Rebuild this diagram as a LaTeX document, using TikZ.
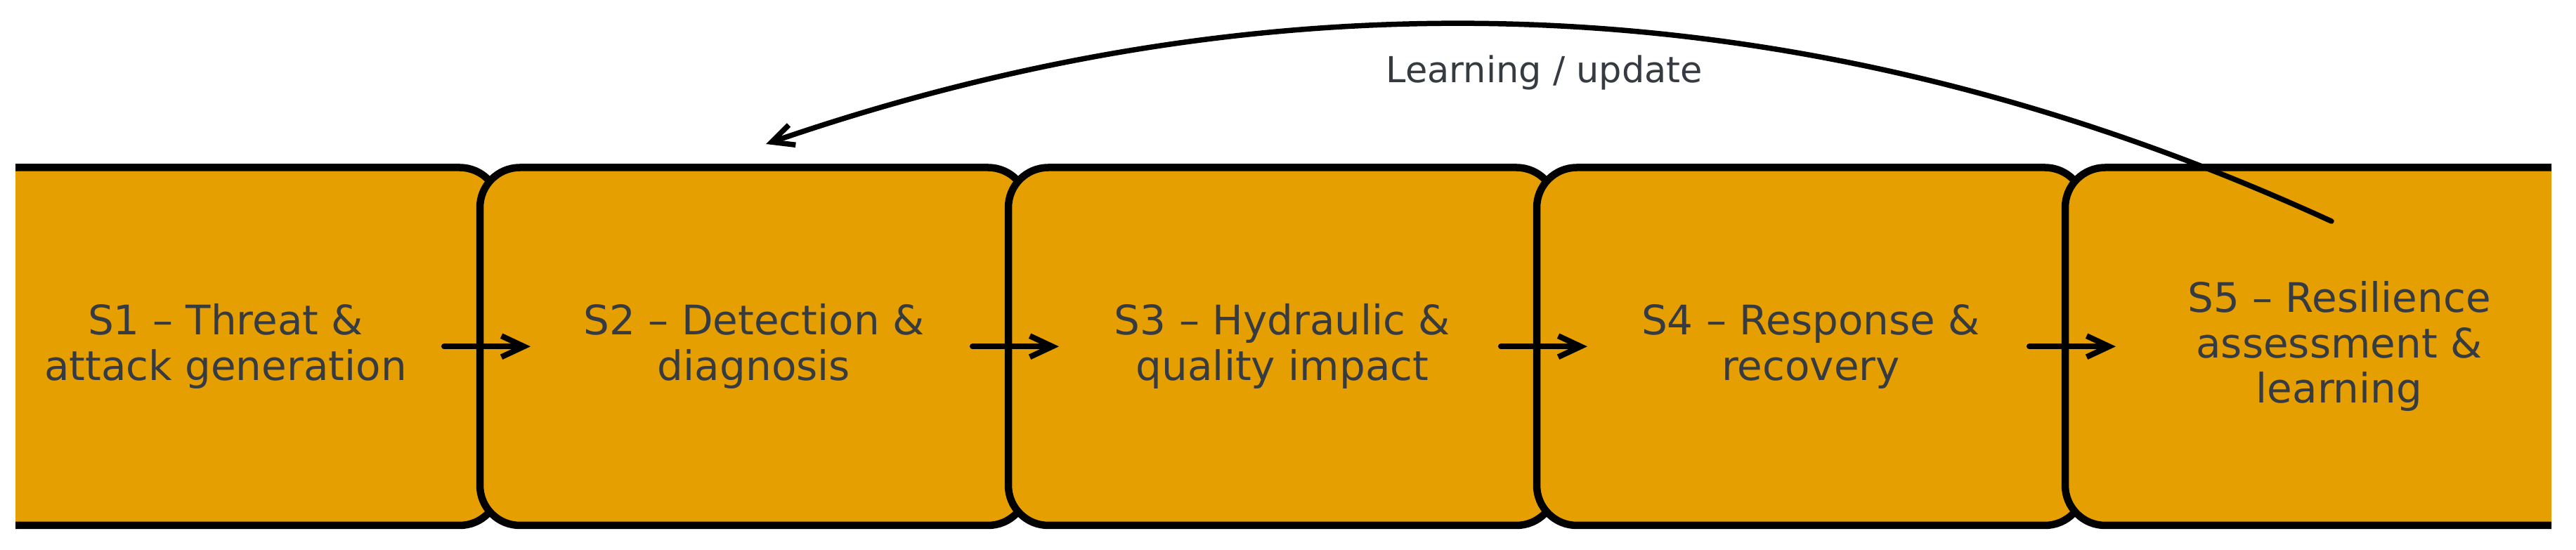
\documentclass[tikz,border=0pt]{standalone}
\usepackage{fontspec}
\setmainfont{DejaVu Sans}
\usetikzlibrary{arrows.meta}
\definecolor{stageorange}{HTML}{E69F00}
\definecolor{inkgray}{HTML}{363B42}
\tikzset{stage/.style = {draw, fill = stageorange, line width = 0.105cm, rounded corners = 0.57cm,
    minimum width = 7.8cm, minimum height = 5.095cm, inner sep = 0, align = center,
    text = inkgray, font = \fontsize{16.5}{18.4}\selectfont},
  flow/.style = {line width = 0.08cm, line cap = round, shorten <= 3.11cm, shorten >= 3.18cm,
    -{Straight Barb[length = 3.2mm, width = 3mm]}},
  loopback/.style = {line width = 0.075cm, line cap = round, -{Straight Barb[length = 3.1mm, width = 3mm]}},
  note/.style = {text = inkgray, font = \fontsize{14.5}{17}\selectfont, inner sep = 0}}
\begin{document}
\begin{tikzpicture}
    \useasboundingbox (0, 0) rectangle (36.66, 7.83);
    \begin{scope}
      \clip (0.22, 0) rectangle (36.31, 7.83);
      \node (s1) at (3.21, 2.8975) [stage] {S1 – Threat \&\\attack generation};
      \node (s2) at (10.73, 2.8975) [stage] {S2 – Detection \&\\diagnosis};
      \node (s3) at (18.25, 2.8975) [stage] {S3 – Hydraulic \&\\quality impact};
      \node (s4) at (25.77, 2.8975) [stage] {S4 – Response \&\\recovery};
      \node (s5) at (33.29, 2.8975) [stage] {S5 – Resilience\\assessment \&\\learning};
    \end{scope}
    \draw [flow] (s1.center) -- (s2.center);
    \draw [flow] (s2.center) -- (s3.center);
    \draw [flow] (s3.center) -- (s4.center);
    \draw [flow] (s4.center) -- (s5.center);
    \coordinate (fbstart) at (33.18, 4.68);
    \coordinate (fbend) at (10.90, 5.78);
    \draw [loopback] (fbstart) .. controls (25.9, 8.02) and (18.46, 8.38) .. (fbend);
    \node (fblabel) at (21.98, 6.80) [note] {Learning / update};
  \end{tikzpicture}
\end{document}
